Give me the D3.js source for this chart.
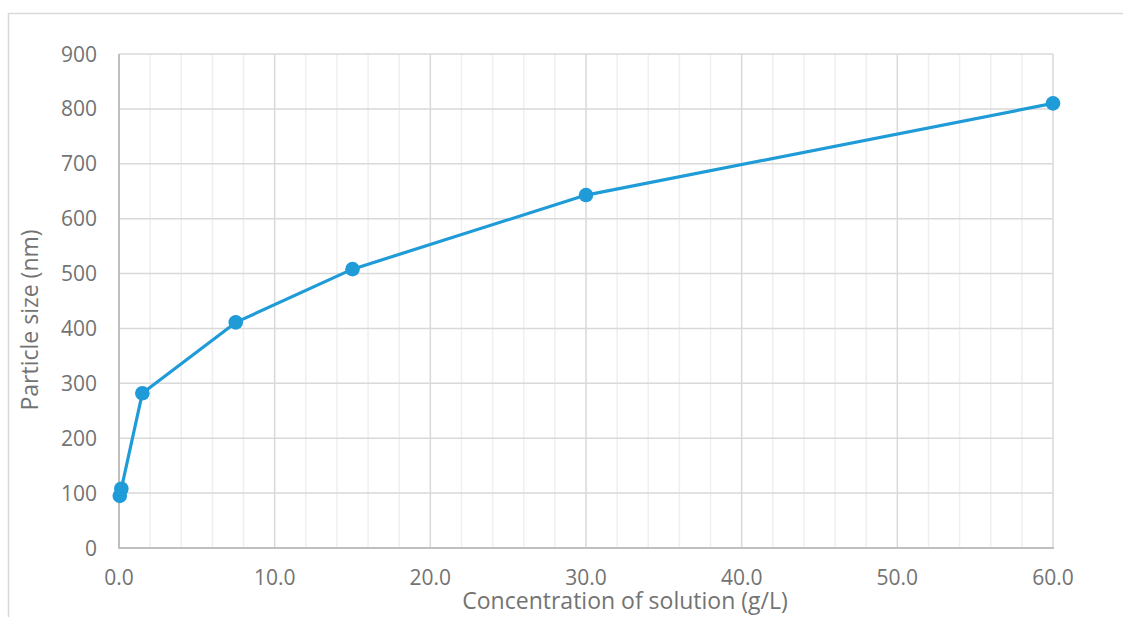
<!DOCTYPE html>
<html><head><meta charset="utf-8">
<script src="https://cdn.jsdelivr.net/npm/d3@7"></script>
<style>html,body{margin:0;padding:0;background:#fff;}svg{display:block;}</style>
</head><body>
<svg id="chart" width="1123" height="617"></svg>
<script>
const concentration = [0.05, 0.15, 1.5, 7.5, 15, 30, 60];
const particleSize = [95, 108, 282, 411, 508, 643, 810];
const xTicks = [0, 10, 20, 30, 40, 50, 60];
const xMinorTicks = d3.range(0, 61, 2);
const yTicks = [0, 100, 200, 300, 400, 500, 600, 700, 800, 900];
const xTitle = "Concentration of solution (g/L)";
const yTitle = "Particle size (nm)";

const svg = d3.select("#chart");
const font = "'Open Sans', sans-serif";
const textColor = "#737373";

svg.append("rect").attr("x", 8.5).attr("y", 13.5).attr("width", 1130).attr("height", 620)
  .attr("fill", "#fff").attr("stroke", "#d9d9d9").attr("stroke-width", 1.5);

const x = d3.scaleLinear().domain([0, 60]).range([119, 1053]);
const y = d3.scaleLinear().domain([0, 900]).range([548, 54]);

const g = svg.append("g");
g.selectAll(".minor").data(xMinorTicks.filter(d => d % 10 !== 0)).join("line")
  .attr("x1", d => x(d)).attr("x2", d => x(d)).attr("y1", y(900)).attr("y2", y(0))
  .attr("stroke", "#efefef").attr("stroke-width", 1.5);
g.selectAll(".majorx").data(xTicks).join("line")
  .attr("x1", d => x(d)).attr("x2", d => x(d)).attr("y1", y(900)).attr("y2", y(0))
  .attr("stroke", "#d9d9d9").attr("stroke-width", 1.5);
g.selectAll(".majory").data(yTicks).join("line")
  .attr("x1", x(0)).attr("x2", x(60)).attr("y1", d => y(d)).attr("y2", d => y(d))
  .attr("stroke", "#d9d9d9").attr("stroke-width", 1.5);

svg.append("line").attr("x1", x(0)).attr("x2", x(0)).attr("y1", y(900)).attr("y2", y(0) + 1)
  .attr("stroke", "#bfbfbf").attr("stroke-width", 2);
svg.append("line").attr("x1", x(0) - 1).attr("x2", x(60) + 1).attr("y1", y(0)).attr("y2", y(0))
  .attr("stroke", "#bfbfbf").attr("stroke-width", 2);

svg.selectAll(".yt").data(yTicks).join("text")
  .attr("x", 97).attr("y", d => y(d)).attr("dy", "0.36em")
  .attr("text-anchor", "end").attr("font-family", font).attr("font-size", 21)
  .attr("fill", textColor).text(d => d);
svg.selectAll(".xt").data(xTicks).join("text")
  .attr("x", d => x(d)).attr("y", 585)
  .attr("text-anchor", "middle").attr("font-family", font).attr("font-size", 21)
  .attr("fill", textColor).text(d => d3.format(".1f")(d));

svg.append("text").attr("x", 625).attr("y", 609).attr("text-anchor", "middle")
  .attr("font-family", font).attr("font-size", 23).attr("fill", textColor).text(xTitle);
svg.append("text").attr("transform", "translate(38,320) rotate(-90)").attr("text-anchor", "middle")
  .attr("font-family", font).attr("font-size", 23).attr("fill", textColor).text(yTitle);

const data = concentration.map((c, i) => ({c, s: particleSize[i]}));
svg.append("path").datum(data)
  .attr("d", d3.line().x(d => x(d.c)).y(d => y(d.s)))
  .attr("fill", "none").attr("stroke", "#1f9bd7").attr("stroke-width", 3.2)
  .attr("stroke-linejoin", "round");
svg.selectAll(".pt").data(data).join("circle")
  .attr("cx", d => x(d.c)).attr("cy", d => y(d.s)).attr("r", 7.3)
  .attr("fill", "#1f9bd7");
</script>
</body></html>
